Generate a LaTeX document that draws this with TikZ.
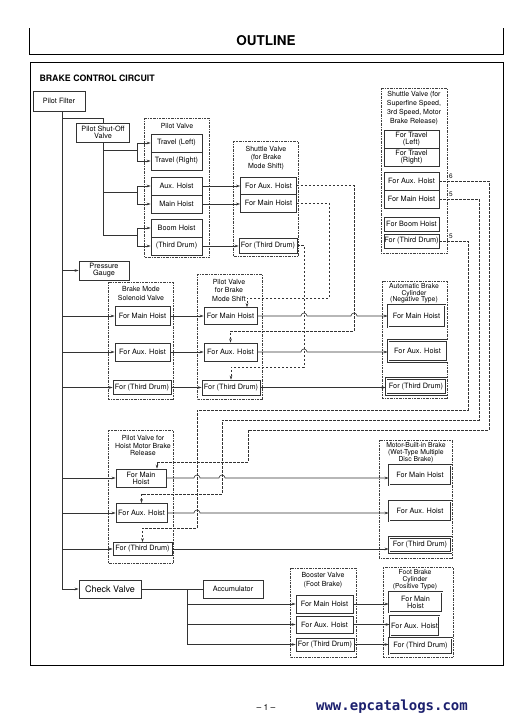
\documentclass[tikz,border=0pt]{standalone}
\usepackage{fontspec}
\setmainfont{TeX Gyre Heros}
\newfontfamily\urlfont{DejaVu Sans Mono}
\usepackage{xcolor}
\usetikzlibrary{arrows.meta}
\definecolor{urlblue}{RGB}{28,32,110}
\tikzset{
	pipe/.style={draw=black!80,line width=0.6pt},
	pilot/.style={draw=black!80,line width=0.55pt,dash pattern=on 2.5pt off 1.5pt},
	grp/.style={draw=black!75,line width=0.45pt,dash pattern=on 2pt off 1pt on 0.5pt off 1pt},
	box/.style={draw=black!80,line width=0.6pt,inner sep=0.5pt,align=center,font=\fontsize{7.3}{7.2}\selectfont},
	cyl/.style={box,double,double distance=0.9pt},
	lbl/.style={align=center,inner sep=0pt,font=\fontsize{7}{8.5}\selectfont},
	arr/.style={-{Stealth[length=4pt,width=2.6pt]}},
	hop/.style={start angle=180,end angle=0,radius=3pt}
}
\begin{document}
\begin{tikzpicture}[x=1pt,y=-1pt]
	\useasboundingbox (0,0) rectangle (523,724);
	\draw[line width=0.7pt] (29,28) -- (29,54) -- (503,54) -- (503,28);
	\node[font=\bfseries\fontsize{13.5}{14}\selectfont] (ttl) at (266,41) {OUTLINE};
	\draw[line width=0.7pt] (30,62) rectangle (503,665);
	\node[anchor=west,font=\bfseries\fontsize{8.8}{9}\selectfont] (bcc) at (36,78) {BRAKE CONTROL CIRCUIT};

	\draw[grp] (144,118) rectangle (209,257);
	\draw[grp] (233,141) rectangle (298,256);
	\draw[grp] (381,88) rectangle (447,253);
	\draw[grp] (108,282) rectangle (173,399);
	\draw[grp] (197,274) rectangle (262,399);
	\draw[grp] (382,281) rectangle (447,398);
	\draw[grp] (108,430) rectangle (173,563);
	\draw[grp] (379,440) rectangle (452,558);
	\draw[grp] (290,568) rectangle (356,657);
	\draw[grp] (383,567) rectangle (453,657);

	\node[lbl] (lPV) at (177,126) {Pilot Valve};
	\node[lbl] (lSB) at (266,158) {Shuttle Valve\\(for Brake\\Mode Shift)};
	\node[lbl,font=\fontsize{7}{9}\selectfont] (lSS) at (414,108.5) {Shuttle Valve (for\\Superfine Speed,\\3rd Speed, Motor\\Brake Release)};
	\node[lbl,font=\fontsize{7}{9}\selectfont] (lBM) at (141,293.5) {Brake Mode\\Solenoid Valve};
	\node[lbl] (lPVB) at (229,290.5) {Pilot Valve\\for Brake\\Mode Shift};
	\node[lbl,font=\fontsize{6.8}{6.6}\selectfont] (lABC) at (414,293.5) {Automatic Brake\\Cylinder\\(Negative Type)};
	\node[lbl,font=\fontsize{7}{7.6}\selectfont] (lHM) at (143,445.5) {Pilot Valve for\\Hoist Motor Brake\\Release};
	\node[lbl,font=\fontsize{6.8}{7}\selectfont] (lMB) at (416,453) {Motor-Built-in Brake\\(Wet-Type Multiple\\Disc Brake)};
	\node[lbl,font=\fontsize{7}{9}\selectfont] (lBV) at (323,580.5) {Booster Valve\\(Foot Brake)};
	\node[lbl,font=\fontsize{6.8}{6.2}\selectfont] (lFB) at (415,580) {Foot Brake\\Cylinder\\(Positive Type)};

	\node[box,minimum width=52,minimum height=20] (pf) at (59,101) {Pilot Filter};
	\node[box,minimum width=53,minimum height=19] (psv) at (103,132.5) {Pilot Shut-Off\\Valve};
	\node[box,minimum width=50,minimum height=19] (pg) at (104,270.5) {Pressure\\Gauge};
	\node[box,minimum width=62,minimum height=18,font=\fontsize{9}{9}\selectfont] (cv) at (110,589) {Check Valve};
	\node[box,minimum width=60,minimum height=18] (acc) at (233,589) {Accumulator};

	\node[box,minimum width=51,minimum height=18] (pvTL) at (176.5,143) {Travel (Left)};
	\node[box,minimum width=51,minimum height=18] (pvTR) at (176.5,161) {Travel (Right)};
	\node[box,minimum width=51,minimum height=18] (pvAux) at (176.5,186) {Aux. Hoist};
	\node[box,minimum width=51,minimum height=18] (pvMain) at (176.5,204) {Main Hoist};
	\node[box,minimum width=51,minimum height=18] (pvBoom) at (176.5,228) {Boom Hoist};
	\node[box,minimum width=51,minimum height=18] (pvThird) at (176.5,246) {(Third Drum)};

	\node[box,minimum width=56,minimum height=17] (sbAux) at (268.5,185.5) {For Aux. Hoist};
	\node[box,minimum width=56,minimum height=18] (sbMain) at (268.5,203) {For Main Hoist};
	\node[box,minimum width=58,minimum height=15] (sbThird) at (268,245.5) {For (Third Drum)};

	\node[box,minimum width=55,minimum height=18] (ssTL) at (411.5,139) {For Travel\\(Left)};
	\node[box,minimum width=55,minimum height=18] (ssTR) at (411.5,157) {For Travel\\(Right)};
	\node[box,minimum width=55,minimum height=18] (ssAux) at (411.5,181) {For Aux. Hoist};
	\node[box,minimum width=55,minimum height=18] (ssMain) at (411.5,199) {For Main Hoist};
	\node[box,minimum width=55,minimum height=14] (ssBoom) at (411.5,224) {For Boom Hoist};
	\node[box,minimum width=55,minimum height=14] (ssThird) at (411.5,241) {For (Third Drum)};
	\node[font=\fontsize{6.5}{6.5}\selectfont,inner sep=0pt] (n6) at (451,176) {6};
	\node[font=\fontsize{6.5}{6.5}\selectfont,inner sep=0pt] (n5a) at (451,194) {5};
	\node[font=\fontsize{6.5}{6.5}\selectfont,inner sep=0pt] (n5b) at (451,236) {5};

	\node[box,minimum width=55,minimum height=19] (bmMain) at (142.5,316) {For Main Hoist};
	\node[box,minimum width=55,minimum height=18] (bmAux) at (142.5,352) {For Aux. Hoist};
	\node[box,minimum width=58,minimum height=14] (bmThird) at (142,387.5) {For (Third Drum)};
	\node[box,minimum width=53,minimum height=17] (pvbMain) at (230.5,316) {For Main Hoist};
	\node[box,minimum width=53,minimum height=18] (pvbAux) at (230.5,352) {For Aux. Hoist};
	\node[box,minimum width=58,minimum height=15] (pvbThird) at (231,387.5) {For (Third Drum)};
	\node[cyl,minimum width=57,minimum height=22] (abcMain) at (416.5,316) {For Main Hoist};
	\node[cyl,minimum width=59,minimum height=21] (abcAux) at (417.5,351) {For Aux. Hoist};
	\node[cyl,minimum width=60,minimum height=16] (abcThird) at (416,386.5) {For (Third Drum)};

	\node[box,minimum width=50,minimum height=18] (hmMain) at (141,478) {For Main\\Hoist};
	\node[box,minimum width=51,minimum height=19] (hmAux) at (141.5,513) {For Aux. Hoist};
	\node[box,minimum width=59,minimum height=13] (hmThird) at (142.5,549) {For (Third Drum)};
	\node[cyl,minimum width=62,minimum height=20] (mbMain) at (420,475) {For Main Hoist};
	\node[cyl,minimum width=62,minimum height=20] (mbAux) at (420,511) {For Aux. Hoist};
	\node[cyl,minimum width=62,minimum height=15] (mbThird) at (420,545) {For (Third Drum)};

	\node[box,minimum width=57,minimum height=18] (bvMain) at (324.5,604) {For Main Hoist};
	\node[box,minimum width=57,minimum height=17] (bvAux) at (324.5,624.5) {For Aux. Hoist};
	\node[box,minimum width=58,minimum height=13] (bvThird) at (325,644.5) {For (Third Drum)};
	\node[cyl,minimum width=53,minimum height=20] (fbMain) at (415.5,602) {For Main\\Hoist};
	\node[cyl,minimum width=49,minimum height=20] (fbAux) at (414.5,626) {For Aux. Hoist};
	\node[cyl,minimum width=63,minimum height=16] (fbThird) at (420.5,646) {For (Third Drum)};

	\coordinate (tr) at (62,111);
	\coordinate (sp1) at (137,150);
	\coordinate (sp2) at (137,192);
	\coordinate (sp3) at (137,235);
	\coordinate (br) at (187,589);

	\draw[pipe,arr] (tr) |- (cv.west);
	\foreach \n in {pg,bmMain,bmAux,bmThird,hmMain,hmAux,hmThird}
		\draw[pipe,arr] (tr |- \n.west) -- (\n.west);
	\draw[pipe] (tr) ++(0,7) -| (psv.north);
	\draw[pipe] (psv.south) -- (psv.south |- sp3);
	\foreach \s/\u/\l in {sp1/pvTL/pvTR,sp2/pvAux/pvMain,sp3/pvBoom/pvThird}{
		\draw[pipe] (psv.south |- \s) -- (\s);
		\draw[pipe,arr] (\s) |- (\u.west);
		\draw[pipe,arr] (\s) |- (\l.west);
	}
	\foreach \a/\b in {pvAux/sbAux,pvMain/sbMain,pvThird/sbThird,bmMain/pvbMain,bmAux/pvbAux,bmThird/pvbThird,pvbThird/abcThird,hmThird/mbThird,bvMain/fbMain,bvAux/fbAux,bvThird/fbThird}
		\draw[pipe,arr] (\a.east) -- (\a.east -| \b.west);
	\draw[pipe,arr] (pvbMain.east) -- (301,316) arc[hop] -- (351,316) arc[hop] -- (pvbMain.east -| abcMain.west);
	\draw[pipe,arr] (pvbAux.east) -- (301,352) arc[hop] -- (pvbAux.east -| abcAux.west);
	\draw[pipe,arr] (hmMain.east) -- (194,478) arc[hop] -- (219,478) arc[hop] -- (hmMain.east -| mbMain.west);
	\draw[pipe,arr] (hmAux.east) -- (194,513) arc[hop] -- (hmAux.east -| mbAux.west);

	\draw[pipe] (cv.east) -- (acc.west);
	\draw[pipe,arr] (br) |- (bvThird.west);
	\draw[pipe,arr] (br |- bvMain.west) -- (bvMain.west);
	\draw[pipe,arr] (br |- bvAux.west) -- (bvAux.west);

	\draw[pilot,arr] (sbAux.east) -| (354,331) -| (pvbAux.north);
	\draw[pilot,arr] (sbMain.east) -| (329,298) -| ([xshift=16.5pt]pvbMain.north);
	\draw[pilot,arr] (sbThird.east) -| (304,367) -| (pvbThird.north);
	\draw[pilot,arr] (ssAux.east) -| (489,430) -| (248,462) -| ([xshift=16pt]hmMain.north);
	\draw[pilot,arr] (ssMain.east) -| (479,420) -| (222,494) -| (hmAux.north);
	\draw[pilot,arr] (ssThird.east) -| (468,410) -| (197,528) -| (hmThird.north);

	\node[font=\fontsize{8.5}{8.5}\selectfont] (pno) at (266,707) {– 1 –};
	\node[font=\urlfont\bfseries\fontsize{14}{14}\selectfont,text=urlblue] (url) at (392,707) {www.epcatalogs.com};
\end{tikzpicture}
\end{document}
